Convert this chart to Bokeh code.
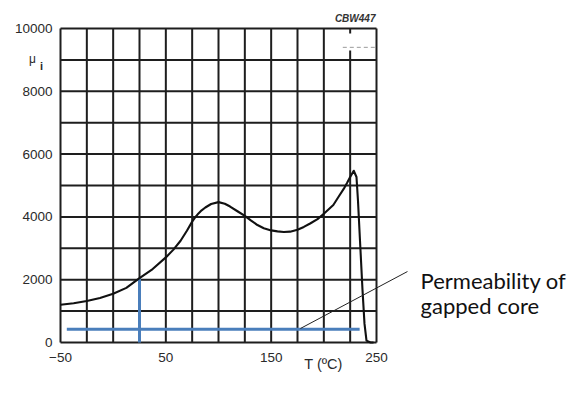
from bokeh.plotting import figure
from bokeh.models import Range1d, FixedTicker
from bokeh.embed import file_html
from bokeh.resources import INLINE
from bokeh.core.properties import value

# ---- data ----
temp_c = [-50, -37.5, -25, -12.5, 0, 12.5, 25, 37.5, 50, 57, 64, 70, 75, 78,
          81, 84, 87.5, 93, 100, 106, 111, 118, 125, 131, 137, 143, 150, 156,
          162, 168, 175, 181, 187, 194, 200, 209, 214, 219, 222, 225, 228.4,
          231, 232.4, 234.8, 236.7, 238.6, 240.5, 244.3, 247.2]
mu_i = [1200, 1250, 1320, 1420, 1550, 1740, 2050, 2340, 2710, 2950, 3240, 3560,
        3850, 3990, 4110, 4210, 4300, 4410, 4470, 4420, 4330, 4180, 4030, 3880,
        3740, 3640, 3570, 3540, 3520, 3530, 3590, 3680, 3790, 3930, 4100, 4380,
        4640, 4900, 5080, 5270, 5470, 5270, 4530, 2940, 1680, 600, 60, 0, 0]

x_ticks = [-50, 50, 150, 250]
y_ticks = [0, 2000, 4000, 6000, 8000, 10000]
grid_t = [-50, -25, 0, 25, 50, 75, 100, 125, 150, 175, 200, 225, 250]
grid_mu = [0, 1000, 2000, 3000, 4000, 5000, 6000, 7000, 8000, 9000, 10000]

gapped_t = [-44, 234]          # span of the gapped-core permeability line
gapped_mu = 420                # permeability of gapped core
marker_t = 25                  # vertical marker temperature
marker_mu = 2050               # curve value at the marker
leader_t = [177.8, 279.4]
leader_mu = [446, 2260]

# small artefact at the top right of the original scan
gap_t = 225
gap_lower_top = 9300
gap_tick = [9840, 10000]
dash_t = [218, 249]
dash_mu = 9400

# ---- layout (frame covers the whole canvas) ----
W, H = 587, 398
org_x, org_y = 60, 342                 # pixel of (-50, 0)
px_per_deg = 316 / 300.0
px_per_mu = 314 / 10000.0
x_start = -50 - org_x / px_per_deg
x_end = -50 + (W - org_x) / px_per_deg
y_start = -(H - org_y) / px_per_mu
y_end = org_y / px_per_mu

p = figure(width=W, height=H, output_backend="svg", toolbar_location=None,
           x_range=Range1d(x_start, x_end), y_range=Range1d(y_start, y_end),
           min_border=0)
p.outline_line_color = None
p.xgrid.visible = False
p.ygrid.visible = False
p.background_fill_color = "white"
p.border_fill_color = "white"

p.xaxis.fixed_location = 0
p.yaxis.fixed_location = -50
for ax in (p.xaxis[0], p.yaxis[0]):
    ax.axis_line_color = None
    ax.major_tick_line_color = None
    ax.minor_tick_line_color = None
    ax.major_tick_out = 0
    ax.major_tick_in = 0
    ax.minor_tick_out = 0
    ax.minor_tick_in = 0
    ax.major_label_text_font = "Liberation Sans"
    ax.major_label_text_font_size = "13.5px"
    ax.major_label_text_color = "#2a2a2a"
p.yaxis.major_label_standoff = 8
p.xaxis.major_label_standoff = 10
p.xaxis.ticker = FixedTicker(ticks=x_ticks)
p.yaxis.ticker = FixedTicker(ticks=y_ticks)

grid_col = "#1e1e1e"
vert_top = [gap_lower_top if t == gap_t else grid_mu[-1] for t in grid_t]
p.segment(x0=grid_t, x1=grid_t, y0=[grid_mu[0]] * len(grid_t), y1=vert_top,
          line_color=grid_col, line_width=2)
p.segment(x0=[grid_t[0]] * len(grid_mu), x1=[grid_t[-1]] * len(grid_mu),
          y0=grid_mu, y1=grid_mu, line_color=grid_col, line_width=2)
p.segment(x0=[gap_t], x1=[gap_t], y0=[gap_tick[0]], y1=[gap_tick[1]],
          line_color=grid_col, line_width=2)
p.line(x=dash_t, y=[dash_mu, dash_mu], line_color="#9a9a9a", line_width=1,
       line_dash="4 3")

# blue lines
blue = "#4a7ebb"
p.line(x=gapped_t, y=[gapped_mu, gapped_mu], line_color=blue, line_width=3)
p.line(x=[marker_t, marker_t], y=[0, marker_mu], line_color=blue, line_width=3)

# curve
p.line(x=temp_c, y=mu_i, line_color="#111111", line_width=2.1,
       line_join="round")

# leader line
p.line(x=leader_t, y=leader_mu, line_color="#222222", line_width=1)

# annotation text
p.text(x=[291.8, 291.8], y=[1975, 1180], text=["Permeability of", "gapped core"],
       text_font=value("Lato"), text_font_size="22px", text_color="#111111",
       text_baseline="alphabetic", text_align="left")

# CBW447 code
p.text(x=[249], y=[10318], text=["CBW447"], text_font=value("Liberation Sans"),
       text_font_style="bold italic", text_font_size="10px", text_color="#333333",
       text_align="right", text_baseline="middle")

# axis titles
p.text(x=[201.6], y=[-700], text=["T  (ºC)"], text_font=value("Liberation Sans"),
       text_font_size="14.5px", text_color="#2a2a2a",
       text_align="center", text_baseline="middle")
p.text(x=[-76.6], y=[9030], text=["μ"], text_font=value("Liberation Sans"),
       text_font_size="12px", text_color="#2a2a2a",
       text_align="center", text_baseline="middle")
p.text(x=[-68], y=[8790], text=["i"], text_font=value("Liberation Sans"),
       text_font_size="11px", text_font_style="bold", text_color="#2a2a2a",
       text_align="center", text_baseline="middle")

open("out.html", "w").write(file_html(p, INLINE))
